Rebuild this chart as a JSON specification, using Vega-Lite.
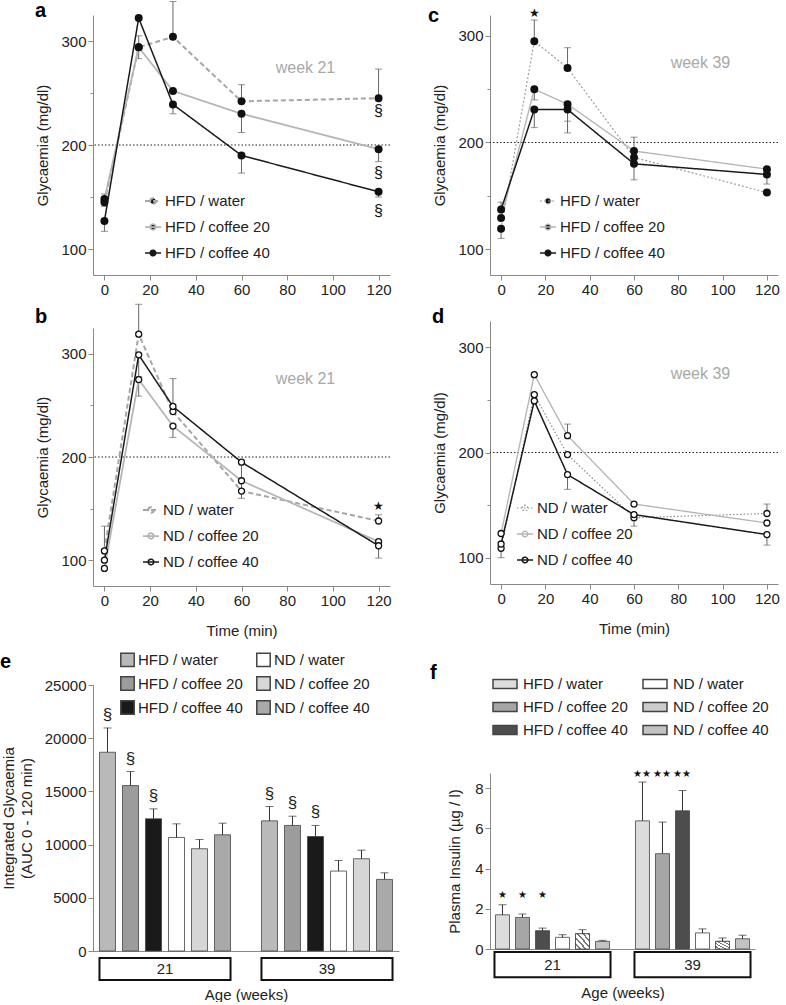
{
  "$schema": "https://vega.github.io/schema/vega-lite/v6.json",
  "background": "white",
  "padding": {"left": 0, "top": 0, "right": 0, "bottom": 0},
  "config": {
    "font": "Liberation Sans",
    "view": {"stroke": null},
    "axis": {"labelFontSize": 15, "titleFontSize": 15, "titleFontWeight": "normal", "labelColor": "#222", "titleColor": "#222", "domainColor": "#888", "tickColor": "#888", "grid": false, "labelPadding": 2, "tickSize": 5},
    "legend": {"labelFontSize": 15, "labelColor": "#222"},
    "title": {"font": "Liberation Sans", "color": "#000"}
  },
  "datasets": {
    "glc": [
      {"p":"a","g":"HFD / water","t":0,"m":145,"lo":145,"hi":153},
      {"p":"a","g":"HFD / water","t":15,"m":294,"lo":294,"hi":305},
      {"p":"a","g":"HFD / water","t":30,"m":304,"lo":304,"hi":338},
      {"p":"a","g":"HFD / water","t":60,"m":242,"lo":242,"hi":258},
      {"p":"a","g":"HFD / water","t":120,"m":245,"lo":245,"hi":273},
      {"p":"a","g":"HFD / coffee 20","t":0,"m":148,"lo":141,"hi":148},
      {"p":"a","g":"HFD / coffee 20","t":15,"m":294,"lo":283,"hi":294},
      {"p":"a","g":"HFD / coffee 20","t":30,"m":252,"lo":252,"hi":252},
      {"p":"a","g":"HFD / coffee 20","t":60,"m":230,"lo":212,"hi":230},
      {"p":"a","g":"HFD / coffee 20","t":120,"m":196,"lo":184,"hi":196},
      {"p":"a","g":"HFD / coffee 40","t":0,"m":127,"lo":117,"hi":127},
      {"p":"a","g":"HFD / coffee 40","t":15,"m":322,"lo":322,"hi":322},
      {"p":"a","g":"HFD / coffee 40","t":30,"m":239,"lo":230,"hi":239},
      {"p":"a","g":"HFD / coffee 40","t":60,"m":190,"lo":173,"hi":190},
      {"p":"a","g":"HFD / coffee 40","t":120,"m":155,"lo":150,"hi":155},
      {"p":"b","g":"ND / water","t":0,"m":109,"lo":109,"hi":133},
      {"p":"b","g":"ND / water","t":15,"m":319,"lo":319,"hi":348},
      {"p":"b","g":"ND / water","t":30,"m":244,"lo":244,"hi":276},
      {"p":"b","g":"ND / water","t":60,"m":167,"lo":167,"hi":167},
      {"p":"b","g":"ND / water","t":120,"m":138,"lo":138,"hi":144},
      {"p":"b","g":"ND / coffee 20","t":0,"m":92,"lo":92,"hi":92},
      {"p":"b","g":"ND / coffee 20","t":15,"m":275,"lo":259,"hi":275},
      {"p":"b","g":"ND / coffee 20","t":30,"m":230,"lo":219,"hi":230},
      {"p":"b","g":"ND / coffee 20","t":60,"m":177,"lo":177,"hi":177},
      {"p":"b","g":"ND / coffee 20","t":120,"m":118,"lo":118,"hi":118},
      {"p":"b","g":"ND / coffee 40","t":0,"m":100,"lo":100,"hi":100},
      {"p":"b","g":"ND / coffee 40","t":15,"m":299,"lo":278,"hi":299},
      {"p":"b","g":"ND / coffee 40","t":30,"m":249,"lo":249,"hi":249},
      {"p":"b","g":"ND / coffee 40","t":60,"m":195,"lo":160,"hi":195},
      {"p":"b","g":"ND / coffee 40","t":120,"m":114,"lo":102,"hi":114},
      {"p":"c","g":"HFD / water","t":0,"m":119,"lo":110,"hi":119},
      {"p":"c","g":"HFD / water","t":15,"m":295,"lo":295,"hi":315},
      {"p":"c","g":"HFD / water","t":30,"m":270,"lo":270,"hi":289},
      {"p":"c","g":"HFD / water","t":60,"m":186,"lo":186,"hi":186},
      {"p":"c","g":"HFD / water","t":120,"m":153,"lo":153,"hi":153},
      {"p":"c","g":"HFD / coffee 20","t":0,"m":129,"lo":129,"hi":129},
      {"p":"c","g":"HFD / coffee 20","t":15,"m":250,"lo":240,"hi":250},
      {"p":"c","g":"HFD / coffee 20","t":30,"m":236,"lo":220,"hi":236},
      {"p":"c","g":"HFD / coffee 20","t":60,"m":192,"lo":192,"hi":205},
      {"p":"c","g":"HFD / coffee 20","t":120,"m":175,"lo":175,"hi":175},
      {"p":"c","g":"HFD / coffee 40","t":0,"m":137,"lo":137,"hi":144},
      {"p":"c","g":"HFD / coffee 40","t":15,"m":231,"lo":214,"hi":231},
      {"p":"c","g":"HFD / coffee 40","t":30,"m":231,"lo":209,"hi":231},
      {"p":"c","g":"HFD / coffee 40","t":60,"m":180,"lo":165,"hi":180},
      {"p":"c","g":"HFD / coffee 40","t":120,"m":170,"lo":161,"hi":170},
      {"p":"d","g":"ND / water","t":0,"m":109,"lo":100,"hi":109},
      {"p":"d","g":"ND / water","t":15,"m":255,"lo":255,"hi":255},
      {"p":"d","g":"ND / water","t":30,"m":198,"lo":198,"hi":198},
      {"p":"d","g":"ND / water","t":60,"m":138,"lo":138,"hi":138},
      {"p":"d","g":"ND / water","t":120,"m":142,"lo":142,"hi":151},
      {"p":"d","g":"ND / coffee 20","t":0,"m":123,"lo":123,"hi":123},
      {"p":"d","g":"ND / coffee 20","t":15,"m":274,"lo":274,"hi":274},
      {"p":"d","g":"ND / coffee 20","t":30,"m":216,"lo":216,"hi":227},
      {"p":"d","g":"ND / coffee 20","t":60,"m":151,"lo":151,"hi":151},
      {"p":"d","g":"ND / coffee 20","t":120,"m":133,"lo":133,"hi":133},
      {"p":"d","g":"ND / coffee 40","t":0,"m":113,"lo":113,"hi":113},
      {"p":"d","g":"ND / coffee 40","t":15,"m":249,"lo":249,"hi":249},
      {"p":"d","g":"ND / coffee 40","t":30,"m":179,"lo":165,"hi":179},
      {"p":"d","g":"ND / coffee 40","t":60,"m":141,"lo":130,"hi":141},
      {"p":"d","g":"ND / coffee 40","t":120,"m":122,"lo":112,"hi":122}
    ],
    "ann": [
      {"p":"a","k":"wk","t":88,"v":274,"s":"week 21"},
      {"p":"a","k":"sym","t":120,"v":233,"s":"§"},
      {"p":"a","k":"sym","t":120,"v":173,"s":"§"},
      {"p":"a","k":"sym","t":120,"v":137,"s":"§"},
      {"p":"b","k":"wk","t":88,"v":276,"s":"week 21"},
      {"p":"b","k":"star","t":120,"v":153,"s":"★"},
      {"p":"c","k":"wk","t":90,"v":275,"s":"week 39"},
      {"p":"c","k":"star","t":15,"v":322,"s":"★"},
      {"p":"d","k":"wk","t":90,"v":275,"s":"week 39"}
    ],
    "auc": [
      {"age":"21","g":"HFD / water","v":18680,"hi":20960,"sig":"§"},
      {"age":"21","g":"HFD / coffee 20","v":15550,"hi":16865,"sig":"§"},
      {"age":"21","g":"HFD / coffee 40","v":12420,"hi":13360,"sig":"§"},
      {"age":"21","g":"ND / water","v":10670,"hi":11950,"sig":""},
      {"age":"21","g":"ND / coffee 20","v":9610,"hi":10480,"sig":""},
      {"age":"21","g":"ND / coffee 40","v":10920,"hi":12015,"sig":""},
      {"age":"39","g":"HFD / water","v":12230,"hi":13580,"sig":"§"},
      {"age":"39","g":"HFD / coffee 20","v":11800,"hi":12670,"sig":"§"},
      {"age":"39","g":"HFD / coffee 40","v":10760,"hi":11800,"sig":"§"},
      {"age":"39","g":"ND / water","v":7510,"hi":8510,"sig":""},
      {"age":"39","g":"ND / coffee 20","v":8670,"hi":9480,"sig":""},
      {"age":"39","g":"ND / coffee 40","v":6730,"hi":7350,"sig":""}
    ],
    "ins": [
      {"age":"21","g":"HFD / water","v":1.70,"hi":2.20,"sig":"★"},
      {"age":"21","g":"HFD / coffee 20","v":1.57,"hi":1.74,"sig":"★"},
      {"age":"21","g":"HFD / coffee 40","v":0.91,"hi":1.04,"sig":"★"},
      {"age":"21","g":"ND / water","v":0.58,"hi":0.71,"sig":""},
      {"age":"21","g":"ND / coffee 20","v":0.76,"hi":0.96,"sig":""},
      {"age":"21","g":"ND / coffee 40","v":0.38,"hi":0.43,"sig":""},
      {"age":"39","g":"HFD / water","v":6.37,"hi":8.30,"sig":"★★"},
      {"age":"39","g":"HFD / coffee 20","v":4.74,"hi":6.31,"sig":"★★"},
      {"age":"39","g":"HFD / coffee 40","v":6.87,"hi":7.88,"sig":"★★"},
      {"age":"39","g":"ND / water","v":0.80,"hi":1.00,"sig":""},
      {"age":"39","g":"ND / coffee 20","v":0.38,"hi":0.55,"sig":""},
      {"age":"39","g":"ND / coffee 40","v":0.51,"hi":0.68,"sig":""}
    ]
  },
  "spacing": 29,
  "align": "none",
  "resolve": {"scale": {"stroke": "independent", "strokeDash": "independent", "strokeWidth": "independent", "fill": "independent", "color": "independent", "xOffset": "independent"}},
  "hconcat": [
    {
      "spacing": 6,
      "resolve": {"scale": {"stroke": "independent", "strokeDash": "independent", "strokeWidth": "independent", "fill": "independent", "color": "independent", "xOffset": "independent"}},
      "vconcat": [
        {
          "width": 297, "height": 260,
          "title": {"text": "a", "anchor": "start", "frame": "group", "dx": -58, "offset": -20, "fontSize": 20, "fontWeight": "bold"},
          "layer": [
            {"data": {"values": [{"ref": 200}]},
             "mark": {"type": "rule", "strokeDash": [1.5, 2], "color": "#222", "strokeWidth": 1},
             "encoding": {"y": {"field": "ref", "type": "quantitative", "title": "Glycaemia (mg/dl)", "scale": {"domain": [75, 325], "nice": false, "zero": false},
               "axis": {"values": [100,150,200,250,300], "labelExpr": "datum.value % 100 === 0 ? datum.label : ''", "tickSize": {"condition": {"test": "datum.value % 100 !== 0", "value": 3}, "value": 5}, "titlePadding": 10}}}},
            {"data": {"name": "glc"}, "transform": [{"filter": "datum.p === 'a'"}],
             "mark": {"type": "rule", "color": "#666", "strokeWidth": 1},
             "encoding": {
               "x": {"field": "t", "type": "quantitative", "title": null, "scale": {"domain": [-5, 125], "nice": false, "zero": false},
                 "axis": {"values": [0,10,20,30,40,50,60,70,80,90,100,110,120], "labelExpr": "datum.value % 20 === 0 ? datum.label : ''", "labelOverlap": false, "labelFlush": false, "tickSize": {"condition": {"test": "datum.value % 20 !== 0", "value": 3}, "value": 5}}},
               "y": {"field": "lo", "type": "quantitative", "title": "Glycaemia (mg/dl)", "scale": {"domain": [75, 325], "nice": false, "zero": false}},
               "y2": {"field": "hi"}}},
            {"data": {"name": "glc"}, "transform": [{"filter": "datum.p === 'a' && datum.hi > datum.m"}],
             "mark": {"type": "tick", "orient": "horizontal", "size": 7, "thickness": 1, "color": "#666"},
             "encoding": {"x": {"field": "t", "type": "quantitative", "title": null, "scale": {"domain": [-5, 125], "nice": false, "zero": false}},
               "y": {"field": "hi", "type": "quantitative", "title": "Glycaemia (mg/dl)", "scale": {"domain": [75, 325], "nice": false, "zero": false}}}},
            {"data": {"name": "glc"}, "transform": [{"filter": "datum.p === 'a' && datum.lo < datum.m"}],
             "mark": {"type": "tick", "orient": "horizontal", "size": 7, "thickness": 1, "color": "#666"},
             "encoding": {"x": {"field": "t", "type": "quantitative", "title": null, "scale": {"domain": [-5, 125], "nice": false, "zero": false}},
               "y": {"field": "lo", "type": "quantitative", "title": "Glycaemia (mg/dl)", "scale": {"domain": [75, 325], "nice": false, "zero": false}}}},
            {"data": {"name": "glc"}, "transform": [{"filter": "datum.p === 'a'"}],
             "mark": {"type": "line"},
             "encoding": {"x": {"field": "t", "type": "quantitative", "title": null, "scale": {"domain": [-5, 125], "nice": false, "zero": false}},
               "y": {"field": "m", "type": "quantitative", "title": "Glycaemia (mg/dl)", "scale": {"domain": [75, 325], "nice": false, "zero": false}},
               "stroke": {"field": "g", "type": "nominal", "scale": {"domain": ["HFD / water", "HFD / coffee 20", "HFD / coffee 40"], "range": ["#a6a6a6", "#b5b5b5", "#1a1a1a"]},
                 "legend": {"orient": "none", "legendX": 51, "legendY": 177, "title": null, "symbolType": "M-1,0H1M-0.35,0A0.35,0.35 0 1 1 0.35,0A0.35,0.35 0 1 1 -0.35,0Z", "symbolSize": 256, "symbolStrokeWidth": 1.5, "symbolFillColor": "#111", "rowPadding": 9, "labelOffset": 3, "encode": {"symbols": {"update": {"fill": {"value": "#111"}}}}}},
               "strokeDash": {"field": "g", "type": "nominal", "scale": {"domain": ["HFD / water", "HFD / coffee 20", "HFD / coffee 40"], "range": [[5, 3], [1, 0], [1, 0]]}},
               "strokeWidth": {"field": "g", "type": "ordinal", "scale": {"domain": ["HFD / water", "HFD / coffee 20", "HFD / coffee 40"], "range": [2, 1.5, 2]}, "legend": null}}},
            {"data": {"name": "glc"}, "transform": [{"filter": "datum.p === 'a'"}],
             "mark": {"type": "point", "filled": true, "shape": "circle", "size": 36, "fill": "#111", "stroke": "#111", "opacity": 1},
             "encoding": {"x": {"field": "t", "type": "quantitative", "title": null, "scale": {"domain": [-5, 125], "nice": false, "zero": false}},
               "y": {"field": "m", "type": "quantitative", "title": "Glycaemia (mg/dl)", "scale": {"domain": [75, 325], "nice": false, "zero": false}}}},
            {"data": {"name": "ann"}, "transform": [{"filter": "datum.p === 'a' && datum.k === 'wk'"}],
             "mark": {"type": "text", "fontSize": 16, "color": "#a8a8a8"},
             "encoding": {"x": {"field": "t", "type": "quantitative", "title": null, "scale": {"domain": [-5, 125], "nice": false, "zero": false}},
               "y": {"field": "v", "type": "quantitative", "title": "Glycaemia (mg/dl)", "scale": {"domain": [75, 325], "nice": false, "zero": false}},
               "text": {"field": "s"}}},
            {"data": {"name": "ann"}, "transform": [{"filter": "datum.p === 'a' && datum.k === 'sym'"}],
             "mark": {"type": "text", "fontSize": 16, "color": "#111"},
             "encoding": {"x": {"field": "t", "type": "quantitative", "title": null, "scale": {"domain": [-5, 125], "nice": false, "zero": false}},
               "y": {"field": "v", "type": "quantitative", "title": "Glycaemia (mg/dl)", "scale": {"domain": [75, 325], "nice": false, "zero": false}},
               "text": {"field": "s"}}}
          ]
        },
        {
          "width": 297, "height": 258,
          "title": {"text": "b", "anchor": "start", "frame": "group", "dx": -58, "offset": -23, "fontSize": 20, "fontWeight": "bold"},
          "layer": [
            {"data": {"values": [{"ref": 200}]},
             "mark": {"type": "rule", "strokeDash": [1.5, 2], "color": "#222", "strokeWidth": 1},
             "encoding": {"y": {"field": "ref", "type": "quantitative", "title": "Glycaemia (mg/dl)", "scale": {"domain": [75, 325], "nice": false, "zero": false},
               "axis": {"values": [100,150,200,250,300], "labelExpr": "datum.value % 100 === 0 ? datum.label : ''", "tickSize": {"condition": {"test": "datum.value % 100 !== 0", "value": 3}, "value": 5}, "titlePadding": 10}}}},
            {"data": {"name": "glc"}, "transform": [{"filter": "datum.p === 'b'"}],
             "mark": {"type": "rule", "color": "#666", "strokeWidth": 1},
             "encoding": {
               "x": {"field": "t", "type": "quantitative", "title": "Time (min)", "scale": {"domain": [-5, 125], "nice": false, "zero": false},
                 "axis": {"values": [0,10,20,30,40,50,60,70,80,90,100,110,120], "labelExpr": "datum.value % 20 === 0 ? datum.label : ''", "labelOverlap": false, "labelFlush": false, "tickSize": {"condition": {"test": "datum.value % 20 !== 0", "value": 3}, "value": 5}, "titlePadding": 15}},
               "y": {"field": "lo", "type": "quantitative", "title": "Glycaemia (mg/dl)", "scale": {"domain": [75, 325], "nice": false, "zero": false}},
               "y2": {"field": "hi"}}},
            {"data": {"name": "glc"}, "transform": [{"filter": "datum.p === 'b' && datum.hi > datum.m"}],
             "mark": {"type": "tick", "orient": "horizontal", "size": 7, "thickness": 1, "color": "#666"},
             "encoding": {"x": {"field": "t", "type": "quantitative", "title": "Time (min)", "scale": {"domain": [-5, 125], "nice": false, "zero": false}},
               "y": {"field": "hi", "type": "quantitative", "title": "Glycaemia (mg/dl)", "scale": {"domain": [75, 325], "nice": false, "zero": false}}}},
            {"data": {"name": "glc"}, "transform": [{"filter": "datum.p === 'b' && datum.lo < datum.m"}],
             "mark": {"type": "tick", "orient": "horizontal", "size": 7, "thickness": 1, "color": "#666"},
             "encoding": {"x": {"field": "t", "type": "quantitative", "title": "Time (min)", "scale": {"domain": [-5, 125], "nice": false, "zero": false}},
               "y": {"field": "lo", "type": "quantitative", "title": "Glycaemia (mg/dl)", "scale": {"domain": [75, 325], "nice": false, "zero": false}}}},
            {"data": {"name": "glc"}, "transform": [{"filter": "datum.p === 'b'"}],
             "mark": {"type": "line"},
             "encoding": {"x": {"field": "t", "type": "quantitative", "title": "Time (min)", "scale": {"domain": [-5, 125], "nice": false, "zero": false}},
               "y": {"field": "m", "type": "quantitative", "title": "Glycaemia (mg/dl)", "scale": {"domain": [75, 325], "nice": false, "zero": false}},
               "stroke": {"field": "g", "type": "nominal", "scale": {"domain": ["ND / water", "ND / coffee 20", "ND / coffee 40"], "range": ["#a6a6a6", "#b5b5b5", "#1a1a1a"]},
                 "legend": {"orient": "none", "legendX": 49, "legendY": 173, "title": null, "symbolType": "M-1,0H1M-0.35,0A0.35,0.35 0 1 1 0.35,0A0.35,0.35 0 1 1 -0.35,0Z", "symbolSize": 256, "symbolStrokeWidth": 1.5, "symbolFillColor": "#fff", "rowPadding": 9, "labelOffset": 3, "encode": {"symbols": {"update": {"fill": {"value": "#fff"}}}}}},
               "strokeDash": {"field": "g", "type": "nominal", "scale": {"domain": ["ND / water", "ND / coffee 20", "ND / coffee 40"], "range": [[5, 3], [1, 0], [1, 0]]}},
               "strokeWidth": {"field": "g", "type": "ordinal", "scale": {"domain": ["ND / water", "ND / coffee 20", "ND / coffee 40"], "range": [2, 1.5, 2]}, "legend": null}}},
            {"data": {"name": "glc"}, "transform": [{"filter": "datum.p === 'b'"}],
             "mark": {"type": "point", "filled": true, "shape": "circle", "size": 36, "fill": "#fff", "stroke": "#111", "strokeWidth": 1.3, "opacity": 1},
             "encoding": {"x": {"field": "t", "type": "quantitative", "title": "Time (min)", "scale": {"domain": [-5, 125], "nice": false, "zero": false}},
               "y": {"field": "m", "type": "quantitative", "title": "Glycaemia (mg/dl)", "scale": {"domain": [75, 325], "nice": false, "zero": false}}}},
            {"data": {"name": "ann"}, "transform": [{"filter": "datum.p === 'b' && datum.k === 'wk'"}],
             "mark": {"type": "text", "fontSize": 16, "color": "#a8a8a8"},
             "encoding": {"x": {"field": "t", "type": "quantitative", "title": "Time (min)", "scale": {"domain": [-5, 125], "nice": false, "zero": false}},
               "y": {"field": "v", "type": "quantitative", "title": "Glycaemia (mg/dl)", "scale": {"domain": [75, 325], "nice": false, "zero": false}},
               "text": {"field": "s"}}},
            {"data": {"name": "ann"}, "transform": [{"filter": "datum.p === 'b' && datum.k === 'star'"}],
             "mark": {"type": "text", "fontSize": 12, "color": "#111"},
             "encoding": {"x": {"field": "t", "type": "quantitative", "title": "Time (min)", "scale": {"domain": [-5, 125], "nice": false, "zero": false}},
               "y": {"field": "v", "type": "quantitative", "title": "Glycaemia (mg/dl)", "scale": {"domain": [75, 325], "nice": false, "zero": false}},
               "text": {"field": "s"}}}
          ]
        },
        {
          "width": 306, "height": 266,
          "title": {"text": "e", "anchor": "start", "frame": "group", "dx": -93, "offset": -28, "fontSize": 20, "fontWeight": "bold"},
          "layer": [
            {"data": {"name": "auc"},
             "mark": {"type": "bar", "stroke": "#444", "strokeWidth": 0.8},
             "encoding": {
               "x": {"field": "age", "type": "nominal", "title": "Age (weeks)", "scale": {"domain": ["21", "39"], "paddingInner": 0.191, "paddingOuter": 0.04}, "axis": {"labels": false, "ticks": false, "titlePadding": 36}},
               "xOffset": {"field": "g", "type": "nominal", "scale": {"domain": ["HFD / water", "HFD / coffee 20", "HFD / coffee 40", "ND / water", "ND / coffee 20", "ND / coffee 40"], "paddingInner": 0.304, "paddingOuter": 0}},
               "y": {"field": "v", "type": "quantitative", "title": ["Integrated Glycaemia", "(AUC 0 - 120 min)"], "scale": {"domain": [0, 25000], "nice": false, "zero": false},
                 "axis": {"values": [0, 5000, 10000, 15000, 20000, 25000], "format": "d", "titlePadding": 10, "titleLineHeight": 18}},
               "fill": {"field": "g", "type": "nominal", "scale": {"domain": ["HFD / water", "HFD / coffee 20", "HFD / coffee 40", "ND / water", "ND / coffee 20", "ND / coffee 40"], "range": ["#b9b9b9", "#9c9c9c", "#1a1a1a", "#ffffff", "#d6d6d6", "#a9a9a9"]},
                 "legend": {"orient": "none", "legendX": 19, "legendY": -41, "padding": 8, "columns": 2, "title": null, "symbolType": "square", "symbolSize": 180, "rowPadding": 3, "columnPadding": 10, "labelOffset": 3, "encode": {"symbols": {"update": {"stroke": {"value": "#333"}, "strokeWidth": {"value": 1}}}}}}}},
            {"data": {"name": "auc"},
             "mark": {"type": "rule", "color": "#333", "strokeWidth": 1},
             "encoding": {
               "x": {"field": "age", "type": "nominal", "title": "Age (weeks)", "scale": {"domain": ["21", "39"]}},
               "xOffset": {"field": "g", "type": "nominal", "scale": {"domain": ["HFD / water", "HFD / coffee 20", "HFD / coffee 40", "ND / water", "ND / coffee 20", "ND / coffee 40"]}},
               "y": {"field": "v", "type": "quantitative", "title": ["Integrated Glycaemia", "(AUC 0 - 120 min)"], "scale": {"domain": [0, 25000], "nice": false, "zero": false}},
               "y2": {"field": "hi"}}},
            {"data": {"name": "auc"},
             "mark": {"type": "tick", "orient": "horizontal", "size": 8, "thickness": 1, "color": "#333"},
             "encoding": {
               "x": {"field": "age", "type": "nominal", "title": "Age (weeks)", "scale": {"domain": ["21", "39"]}},
               "xOffset": {"field": "g", "type": "nominal", "scale": {"domain": ["HFD / water", "HFD / coffee 20", "HFD / coffee 40", "ND / water", "ND / coffee 20", "ND / coffee 40"]}},
               "y": {"field": "hi", "type": "quantitative", "title": ["Integrated Glycaemia", "(AUC 0 - 120 min)"], "scale": {"domain": [0, 25000], "nice": false, "zero": false}}}},
            {"data": {"name": "auc"}, "transform": [{"filter": "datum.sig !== ''"}],
             "mark": {"type": "text", "fontSize": 17, "dy": -13, "color": "#222"},
             "encoding": {
               "x": {"field": "age", "type": "nominal", "title": "Age (weeks)", "scale": {"domain": ["21", "39"]}},
               "xOffset": {"field": "g", "type": "nominal", "scale": {"domain": ["HFD / water", "HFD / coffee 20", "HFD / coffee 40", "ND / water", "ND / coffee 20", "ND / coffee 40"]}},
               "y": {"field": "hi", "type": "quantitative", "title": ["Integrated Glycaemia", "(AUC 0 - 120 min)"], "scale": {"domain": [0, 25000], "nice": false, "zero": false}},
               "text": {"field": "sig"}}},
            {"data": {"values": [{"age": "21"}, {"age": "39"}]},
             "mark": {"type": "rect", "fill": "#fff", "stroke": "#111", "strokeWidth": 2},
             "encoding": {
               "x": {"field": "age", "type": "nominal", "title": "Age (weeks)", "scale": {"domain": ["21", "39"]}},
               "y": {"datum": -660, "type": "quantitative", "title": ["Integrated Glycaemia", "(AUC 0 - 120 min)"], "scale": {"domain": [0, 25000], "nice": false, "zero": false}},
               "y2": {"datum": -2725}}},
            {"data": {"values": [{"age": "21"}, {"age": "39"}]},
             "mark": {"type": "text", "fontSize": 15, "color": "#222"},
             "encoding": {
               "x": {"field": "age", "type": "nominal", "title": "Age (weeks)", "scale": {"domain": ["21", "39"]}},
               "y": {"datum": -1690, "type": "quantitative", "title": ["Integrated Glycaemia", "(AUC 0 - 120 min)"], "scale": {"domain": [0, 25000], "nice": false, "zero": false}},
               "text": {"field": "age"}}}
          ]
        }
      ]
    },
    {
      "spacing": 9,
      "resolve": {"scale": {"stroke": "independent", "strokeDash": "independent", "strokeWidth": "independent", "fill": "independent", "color": "independent", "xOffset": "independent"}},
      "vconcat": [
        {
          "width": 288, "height": 260,
          "title": {"text": "c", "anchor": "start", "frame": "group", "dx": -62, "offset": -19.5, "fontSize": 20, "fontWeight": "bold"},
          "layer": [
            {"data": {"values": [{"ref": 200}]},
             "mark": {"type": "rule", "strokeDash": [1.5, 2], "color": "#222", "strokeWidth": 1},
             "encoding": {"y": {"field": "ref", "type": "quantitative", "title": "Glycaemia (mg/dl)", "scale": {"domain": [75.6, 319.7], "nice": false, "zero": false},
               "axis": {"values": [100,150,200,250,300], "labelExpr": "datum.value % 100 === 0 ? datum.label : ''", "tickSize": {"condition": {"test": "datum.value % 100 !== 0", "value": 3}, "value": 5}, "titlePadding": 10}}}},
            {"data": {"name": "glc"}, "transform": [{"filter": "datum.p === 'c'"}],
             "mark": {"type": "rule", "color": "#666", "strokeWidth": 1},
             "encoding": {
               "x": {"field": "t", "type": "quantitative", "title": null, "scale": {"domain": [-5, 125], "nice": false, "zero": false},
                 "axis": {"values": [0,10,20,30,40,50,60,70,80,90,100,110,120], "labelExpr": "datum.value % 20 === 0 ? datum.label : ''", "labelOverlap": false, "labelFlush": false, "tickSize": {"condition": {"test": "datum.value % 20 !== 0", "value": 3}, "value": 5}}},
               "y": {"field": "lo", "type": "quantitative", "title": "Glycaemia (mg/dl)", "scale": {"domain": [75.6, 319.7], "nice": false, "zero": false}},
               "y2": {"field": "hi"}}},
            {"data": {"name": "glc"}, "transform": [{"filter": "datum.p === 'c' && datum.hi > datum.m"}],
             "mark": {"type": "tick", "orient": "horizontal", "size": 7, "thickness": 1, "color": "#666"},
             "encoding": {"x": {"field": "t", "type": "quantitative", "title": null, "scale": {"domain": [-5, 125], "nice": false, "zero": false}},
               "y": {"field": "hi", "type": "quantitative", "title": "Glycaemia (mg/dl)", "scale": {"domain": [75.6, 319.7], "nice": false, "zero": false}}}},
            {"data": {"name": "glc"}, "transform": [{"filter": "datum.p === 'c' && datum.lo < datum.m"}],
             "mark": {"type": "tick", "orient": "horizontal", "size": 7, "thickness": 1, "color": "#666"},
             "encoding": {"x": {"field": "t", "type": "quantitative", "title": null, "scale": {"domain": [-5, 125], "nice": false, "zero": false}},
               "y": {"field": "lo", "type": "quantitative", "title": "Glycaemia (mg/dl)", "scale": {"domain": [75.6, 319.7], "nice": false, "zero": false}}}},
            {"data": {"name": "glc"}, "transform": [{"filter": "datum.p === 'c'"}],
             "mark": {"type": "line"},
             "encoding": {"x": {"field": "t", "type": "quantitative", "title": null, "scale": {"domain": [-5, 125], "nice": false, "zero": false}},
               "y": {"field": "m", "type": "quantitative", "title": "Glycaemia (mg/dl)", "scale": {"domain": [75.6, 319.7], "nice": false, "zero": false}},
               "stroke": {"field": "g", "type": "nominal", "scale": {"domain": ["HFD / water", "HFD / coffee 20", "HFD / coffee 40"], "range": ["#a0a0a0", "#b5b5b5", "#1a1a1a"]},
                 "legend": {"orient": "none", "legendX": 49, "legendY": 177, "title": null, "symbolType": "M-1,0H1M-0.35,0A0.35,0.35 0 1 1 0.35,0A0.35,0.35 0 1 1 -0.35,0Z", "symbolSize": 256, "symbolStrokeWidth": 1.5, "symbolFillColor": "#111", "rowPadding": 9, "labelOffset": 3, "encode": {"symbols": {"update": {"fill": {"value": "#111"}}}}}},
               "strokeDash": {"field": "g", "type": "nominal", "scale": {"domain": ["HFD / water", "HFD / coffee 20", "HFD / coffee 40"], "range": [[2, 2], [1, 0], [1, 0]]}},
               "strokeWidth": {"field": "g", "type": "ordinal", "scale": {"domain": ["HFD / water", "HFD / coffee 20", "HFD / coffee 40"], "range": [1.2, 1.5, 2]}, "legend": null}}},
            {"data": {"name": "glc"}, "transform": [{"filter": "datum.p === 'c'"}],
             "mark": {"type": "point", "filled": true, "shape": "circle", "size": 36, "fill": "#111", "stroke": "#111", "opacity": 1},
             "encoding": {"x": {"field": "t", "type": "quantitative", "title": null, "scale": {"domain": [-5, 125], "nice": false, "zero": false}},
               "y": {"field": "m", "type": "quantitative", "title": "Glycaemia (mg/dl)", "scale": {"domain": [75.6, 319.7], "nice": false, "zero": false}}}},
            {"data": {"name": "ann"}, "transform": [{"filter": "datum.p === 'c' && datum.k === 'wk'"}],
             "mark": {"type": "text", "fontSize": 16, "color": "#a8a8a8"},
             "encoding": {"x": {"field": "t", "type": "quantitative", "title": null, "scale": {"domain": [-5, 125], "nice": false, "zero": false}},
               "y": {"field": "v", "type": "quantitative", "title": "Glycaemia (mg/dl)", "scale": {"domain": [75.6, 319.7], "nice": false, "zero": false}},
               "text": {"field": "s"}}},
            {"data": {"name": "ann"}, "transform": [{"filter": "datum.p === 'c' && datum.k === 'star'"}],
             "mark": {"type": "text", "fontSize": 12, "color": "#111"},
             "encoding": {"x": {"field": "t", "type": "quantitative", "title": null, "scale": {"domain": [-5, 125], "nice": false, "zero": false}},
               "y": {"field": "v", "type": "quantitative", "title": "Glycaemia (mg/dl)", "scale": {"domain": [75.6, 319.7], "nice": false, "zero": false}},
               "text": {"field": "s"}}}
          ]
        },
        {
          "width": 288, "height": 263,
          "title": {"text": "d", "anchor": "start", "frame": "group", "dx": -58, "offset": -5.5, "fontSize": 20, "fontWeight": "bold"},
          "layer": [
            {"data": {"values": [{"ref": 200}]},
             "mark": {"type": "rule", "strokeDash": [1.5, 2], "color": "#222", "strokeWidth": 1},
             "encoding": {"y": {"field": "ref", "type": "quantitative", "title": "Glycaemia (mg/dl)", "scale": {"domain": [75, 325], "nice": false, "zero": false},
               "axis": {"values": [100,150,200,250,300], "labelExpr": "datum.value % 100 === 0 ? datum.label : ''", "tickSize": {"condition": {"test": "datum.value % 100 !== 0", "value": 3}, "value": 5}, "titlePadding": 10}}}},
            {"data": {"name": "glc"}, "transform": [{"filter": "datum.p === 'd'"}],
             "mark": {"type": "rule", "color": "#666", "strokeWidth": 1},
             "encoding": {
               "x": {"field": "t", "type": "quantitative", "title": "Time (min)", "scale": {"domain": [-5, 125], "nice": false, "zero": false},
                 "axis": {"values": [0,10,20,30,40,50,60,70,80,90,100,110,120], "labelExpr": "datum.value % 20 === 0 ? datum.label : ''", "labelOverlap": false, "labelFlush": false, "tickSize": {"condition": {"test": "datum.value % 20 !== 0", "value": 3}, "value": 5}, "titlePadding": 15}},
               "y": {"field": "lo", "type": "quantitative", "title": "Glycaemia (mg/dl)", "scale": {"domain": [75, 325], "nice": false, "zero": false}},
               "y2": {"field": "hi"}}},
            {"data": {"name": "glc"}, "transform": [{"filter": "datum.p === 'd' && datum.hi > datum.m"}],
             "mark": {"type": "tick", "orient": "horizontal", "size": 7, "thickness": 1, "color": "#666"},
             "encoding": {"x": {"field": "t", "type": "quantitative", "title": "Time (min)", "scale": {"domain": [-5, 125], "nice": false, "zero": false}},
               "y": {"field": "hi", "type": "quantitative", "title": "Glycaemia (mg/dl)", "scale": {"domain": [75, 325], "nice": false, "zero": false}}}},
            {"data": {"name": "glc"}, "transform": [{"filter": "datum.p === 'd' && datum.lo < datum.m"}],
             "mark": {"type": "tick", "orient": "horizontal", "size": 7, "thickness": 1, "color": "#666"},
             "encoding": {"x": {"field": "t", "type": "quantitative", "title": "Time (min)", "scale": {"domain": [-5, 125], "nice": false, "zero": false}},
               "y": {"field": "lo", "type": "quantitative", "title": "Glycaemia (mg/dl)", "scale": {"domain": [75, 325], "nice": false, "zero": false}}}},
            {"data": {"name": "glc"}, "transform": [{"filter": "datum.p === 'd'"}],
             "mark": {"type": "line"},
             "encoding": {"x": {"field": "t", "type": "quantitative", "title": "Time (min)", "scale": {"domain": [-5, 125], "nice": false, "zero": false}},
               "y": {"field": "m", "type": "quantitative", "title": "Glycaemia (mg/dl)", "scale": {"domain": [75, 325], "nice": false, "zero": false}},
               "stroke": {"field": "g", "type": "nominal", "scale": {"domain": ["ND / water", "ND / coffee 20", "ND / coffee 40"], "range": ["#8c8c8c", "#b5b5b5", "#1a1a1a"]},
                 "legend": {"orient": "none", "legendX": 26, "legendY": 178, "title": null, "symbolType": "M-1,0H1M-0.35,0A0.35,0.35 0 1 1 0.35,0A0.35,0.35 0 1 1 -0.35,0Z", "symbolSize": 256, "symbolStrokeWidth": 1.5, "symbolFillColor": "#fff", "rowPadding": 9, "labelOffset": 3, "encode": {"symbols": {"update": {"fill": {"value": "#fff"}}}}}},
               "strokeDash": {"field": "g", "type": "nominal", "scale": {"domain": ["ND / water", "ND / coffee 20", "ND / coffee 40"], "range": [[1.5, 2], [1, 0], [1, 0]]}},
               "strokeWidth": {"field": "g", "type": "ordinal", "scale": {"domain": ["ND / water", "ND / coffee 20", "ND / coffee 40"], "range": [1.2, 1.5, 2]}, "legend": null}}},
            {"data": {"name": "glc"}, "transform": [{"filter": "datum.p === 'd'"}],
             "mark": {"type": "point", "filled": true, "shape": "circle", "size": 36, "fill": "#fff", "stroke": "#111", "strokeWidth": 1.3, "opacity": 1},
             "encoding": {"x": {"field": "t", "type": "quantitative", "title": "Time (min)", "scale": {"domain": [-5, 125], "nice": false, "zero": false}},
               "y": {"field": "m", "type": "quantitative", "title": "Glycaemia (mg/dl)", "scale": {"domain": [75, 325], "nice": false, "zero": false}}}},
            {"data": {"name": "ann"}, "transform": [{"filter": "datum.p === 'd' && datum.k === 'wk'"}],
             "mark": {"type": "text", "fontSize": 16, "color": "#a8a8a8"},
             "encoding": {"x": {"field": "t", "type": "quantitative", "title": "Time (min)", "scale": {"domain": [-5, 125], "nice": false, "zero": false}},
               "y": {"field": "v", "type": "quantitative", "title": "Glycaemia (mg/dl)", "scale": {"domain": [75, 325], "nice": false, "zero": false}},
               "text": {"field": "s"}}}
          ]
        },
        {
          "width": 265, "height": 176,
          "title": {"text": "f", "anchor": "start", "frame": "group", "dx": -60, "offset": -37, "fontSize": 20, "fontWeight": "bold"},
          "layer": [
            {"data": {"name": "ins"},
             "mark": {"type": "bar", "stroke": "#444", "strokeWidth": 0.8},
             "encoding": {
               "x": {"field": "age", "type": "nominal", "title": "Age (weeks)", "scale": {"domain": ["21", "39"], "paddingInner": 0.171, "paddingOuter": 0.032}, "axis": {"labels": false, "ticks": false, "titlePadding": 36}},
               "xOffset": {"field": "g", "type": "nominal", "scale": {"domain": ["HFD / water", "HFD / coffee 20", "HFD / coffee 40", "ND / water", "ND / coffee 20", "ND / coffee 40"], "paddingInner": 0.3, "paddingOuter": 0.05}},
               "y": {"field": "v", "type": "quantitative", "title": "Plasma Insulin (µg / l)", "scale": {"domain": [0, 8.75], "nice": false, "zero": false},
                 "axis": {"values": [0, 1, 2, 3, 4, 5, 6, 7, 8], "labelExpr": "datum.value % 2 === 0 ? datum.label : ''", "tickSize": {"condition": {"test": "datum.value % 2 !== 0", "value": 3}, "value": 5}, "titlePadding": 12}},
               "fill": {"field": "g", "type": "nominal", "scale": {"domain": ["HFD / water", "HFD / coffee 20", "HFD / coffee 40", "ND / water", "ND / coffee 20", "ND / coffee 40"], "range": ["#dcdcdc", "#a6a6a6", "#4d4d4d", "#ffffff", "#cccccc", "#c2c2c2"]},
                 "legend": {"orient": "none", "legendX": -23.5, "legendY": -127.5, "padding": 25.5, "columns": 2, "title": null, "symbolType": "M-1,-0.38H1V0.38H-1Z", "symbolSize": 576, "rowPadding": 2, "columnPadding": 12, "labelOffset": 5, "encode": {"symbols": {"update": {"stroke": {"value": "#333"}, "strokeWidth": {"value": 1}}}}}}}},
            {"data": {"name": "ins"}, "transform": [{"filter": "datum.g === 'ND / coffee 20'"}],
             "mark": {"type": "bar", "stroke": "#444", "strokeWidth": 0.8,
               "fill": {"gradient": "linear", "x1": 0, "y1": 1, "x2": 1, "y2": 0, "stops": [
                 {"offset": 0, "color": "#ffffff"}, {"offset": 0.13, "color": "#ffffff"}, {"offset": 0.13, "color": "#777777"}, {"offset": 0.2, "color": "#777777"},
                 {"offset": 0.2, "color": "#ffffff"}, {"offset": 0.33, "color": "#ffffff"}, {"offset": 0.33, "color": "#777777"}, {"offset": 0.4, "color": "#777777"},
                 {"offset": 0.4, "color": "#ffffff"}, {"offset": 0.53, "color": "#ffffff"}, {"offset": 0.53, "color": "#777777"}, {"offset": 0.6, "color": "#777777"},
                 {"offset": 0.6, "color": "#ffffff"}, {"offset": 0.73, "color": "#ffffff"}, {"offset": 0.73, "color": "#777777"}, {"offset": 0.8, "color": "#777777"},
                 {"offset": 0.8, "color": "#ffffff"}, {"offset": 0.93, "color": "#ffffff"}, {"offset": 0.93, "color": "#777777"}, {"offset": 1, "color": "#777777"}]}},
             "encoding": {
               "x": {"field": "age", "type": "nominal", "title": "Age (weeks)", "scale": {"domain": ["21", "39"]}},
               "xOffset": {"field": "g", "type": "nominal", "scale": {"domain": ["HFD / water", "HFD / coffee 20", "HFD / coffee 40", "ND / water", "ND / coffee 20", "ND / coffee 40"]}},
               "y": {"field": "v", "type": "quantitative", "title": "Plasma Insulin (µg / l)", "scale": {"domain": [0, 8.75], "nice": false, "zero": false}}}},
            {"data": {"name": "ins"},
             "mark": {"type": "rule", "color": "#333", "strokeWidth": 1},
             "encoding": {
               "x": {"field": "age", "type": "nominal", "title": "Age (weeks)", "scale": {"domain": ["21", "39"]}},
               "xOffset": {"field": "g", "type": "nominal", "scale": {"domain": ["HFD / water", "HFD / coffee 20", "HFD / coffee 40", "ND / water", "ND / coffee 20", "ND / coffee 40"]}},
               "y": {"field": "v", "type": "quantitative", "title": "Plasma Insulin (µg / l)", "scale": {"domain": [0, 8.75], "nice": false, "zero": false}},
               "y2": {"field": "hi"}}},
            {"data": {"name": "ins"},
             "mark": {"type": "tick", "orient": "horizontal", "size": 8, "thickness": 1, "color": "#333"},
             "encoding": {
               "x": {"field": "age", "type": "nominal", "title": "Age (weeks)", "scale": {"domain": ["21", "39"]}},
               "xOffset": {"field": "g", "type": "nominal", "scale": {"domain": ["HFD / water", "HFD / coffee 20", "HFD / coffee 40", "ND / water", "ND / coffee 20", "ND / coffee 40"]}},
               "y": {"field": "hi", "type": "quantitative", "title": "Plasma Insulin (µg / l)", "scale": {"domain": [0, 8.75], "nice": false, "zero": false}}}},
            {"data": {"name": "ins"}, "transform": [{"filter": "datum.age === '21' && datum.sig !== ''"}],
             "mark": {"type": "text", "fontSize": 10, "color": "#111"},
             "encoding": {
               "x": {"field": "age", "type": "nominal", "title": "Age (weeks)", "scale": {"domain": ["21", "39"]}},
               "xOffset": {"field": "g", "type": "nominal", "scale": {"domain": ["HFD / water", "HFD / coffee 20", "HFD / coffee 40", "ND / water", "ND / coffee 20", "ND / coffee 40"]}},
               "y": {"datum": 2.7, "type": "quantitative", "title": "Plasma Insulin (µg / l)", "scale": {"domain": [0, 8.75], "nice": false, "zero": false}},
               "text": {"field": "sig"}}},
            {"data": {"name": "ins"}, "transform": [{"filter": "datum.age === '39' && datum.sig !== ''"}],
             "mark": {"type": "text", "fontSize": 10, "color": "#111"},
             "encoding": {
               "x": {"field": "age", "type": "nominal", "title": "Age (weeks)", "scale": {"domain": ["21", "39"]}},
               "xOffset": {"field": "g", "type": "nominal", "scale": {"domain": ["HFD / water", "HFD / coffee 20", "HFD / coffee 40", "ND / water", "ND / coffee 20", "ND / coffee 40"]}},
               "y": {"datum": 8.7, "type": "quantitative", "title": "Plasma Insulin (µg / l)", "scale": {"domain": [0, 8.75], "nice": false, "zero": false}},
               "text": {"field": "sig"}}},
            {"data": {"values": [{"age": "21"}, {"age": "39"}]},
             "mark": {"type": "rect", "fill": "#fff", "stroke": "#111", "strokeWidth": 2},
             "encoding": {
               "x": {"field": "age", "type": "nominal", "title": "Age (weeks)", "scale": {"domain": ["21", "39"]}},
               "y": {"datum": -0.15, "type": "quantitative", "title": "Plasma Insulin (µg / l)", "scale": {"domain": [0, 8.75], "nice": false, "zero": false}},
               "y2": {"datum": -1.4}}},
            {"data": {"values": [{"age": "21"}, {"age": "39"}]},
             "mark": {"type": "text", "fontSize": 15, "color": "#222"},
             "encoding": {
               "x": {"field": "age", "type": "nominal", "title": "Age (weeks)", "scale": {"domain": ["21", "39"]}},
               "y": {"datum": -0.78, "type": "quantitative", "title": "Plasma Insulin (µg / l)", "scale": {"domain": [0, 8.75], "nice": false, "zero": false}},
               "text": {"field": "age"}}}
          ]
        }
      ]
    }
  ]
}
